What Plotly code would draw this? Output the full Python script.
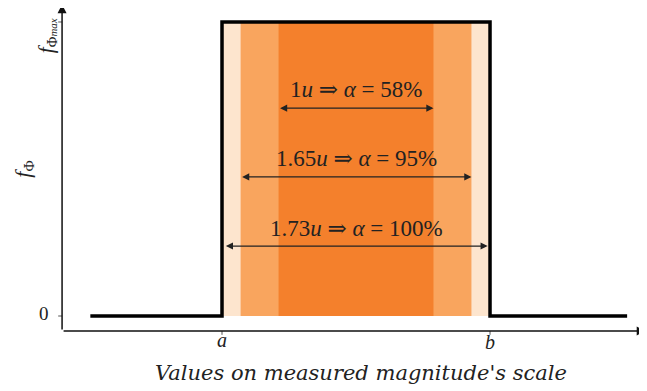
import plotly.graph_objects as go

# ---------------- data ----------------
a_val, b_val = -1.73, 1.73              # limits of the uniform pdf (in units of u)
pdf_x = [-3.43, -1.73, -1.73, 1.73, 1.73, 3.50]
pdf_y = [0, 0, 1, 1, 0, 0]

band_half = [1.73, 1.49, 1.0]           # light, medium, dark bands
band_colors = ["#FDE5CE", "#F9A55E", "#F4802C"]

arrow_half = [1.0, 1.49, 1.70]
arrow_y = [0.707, 0.473, 0.238]
label_y = [0.769, 0.537, 0.299]
labels = ["1<i>u</i>\u00a0⇒\u00a0<i>α</i>\u00a0=\u00a058%",
          "1.65<i>u</i>\u00a0⇒\u00a0<i>α</i>\u00a0=\u00a095%",
          "1.73<i>u</i>\u00a0⇒\u00a0<i>α</i>\u00a0=\u00a0100%"]

x_ticks = [a_val, b_val]
x_tick_labels = ["<i>a</i>", "<i>b</i>"]
y_ticks = [0, 1]
y_tick_labels = ["0", "<i>f</i><sub>Φ<span style='font-size:11px'><i>max</i></span></sub>"]

x_title = "<i>Values on measured magnitude's scale</i>"
y_title = "<i>f</i><sub>Φ</sub>"

# axis geometry (data coords)
x_axis_y = -0.051
y_axis_x = -3.795
x_axis_end = 3.74
y_axis_end = 1.06

SERIF = "Liberation Serif, DejaVu Serif, serif"

fig = go.Figure()

# bands
for h, c in zip(band_half, band_colors):
    fig.add_trace(go.Scatter(
        x=[-h, h, h, -h, -h], y=[0, 0, 1, 1, 0],
        fill="toself", fillcolor=c, line=dict(width=0),
        mode="lines", hoverinfo="skip", showlegend=False))

# pdf outline
fig.add_trace(go.Scatter(x=pdf_x, y=pdf_y, mode="lines",
                         line=dict(color="black", width=3.5),
                         showlegend=False, hoverinfo="skip"))

ann = []
# double-headed span arrows
for h, y in zip(arrow_half, arrow_y):
    ann.append(dict(x=h, y=y, ax=-h, ay=y, xref="x", yref="y", axref="x", ayref="y",
                    showarrow=True, arrowhead=2, startarrowhead=2, arrowside="end+start",
                    arrowsize=1.1, startarrowsize=1.1, arrowwidth=1.3, arrowcolor="#222",
                    text=""))
for t, y in zip(labels, label_y):
    ann.append(dict(x=0.01, y=y, xref="x", yref="y", text=t, showarrow=False,
                    font=dict(family=SERIF, size=23, color="#222")))

# axes with arrowheads
ann.append(dict(x=x_axis_end, y=x_axis_y, ax=y_axis_x, ay=x_axis_y, xref="x", yref="y",
                axref="x", ayref="y", showarrow=True, arrowhead=2, arrowsize=1.2,
                arrowwidth=1.5, arrowcolor="#111", text=""))
ann.append(dict(x=y_axis_x, y=y_axis_end, ax=y_axis_x, ay=x_axis_y, xref="x", yref="y",
                axref="x", ayref="y", showarrow=True, arrowhead=2, arrowsize=1.2,
                arrowwidth=1.5, arrowcolor="#111", text=""))

# tick marks
shapes = []
for xt in x_ticks:
    shapes.append(dict(type="line", xref="x", yref="y", x0=xt, x1=xt,
                       y0=x_axis_y, y1=x_axis_y - 0.013, line=dict(color="#555", width=1)))
for yt in y_ticks:
    shapes.append(dict(type="line", xref="x", yref="y", x0=y_axis_x - 0.05, x1=y_axis_x,
                       y0=yt, y1=yt, line=dict(color="#555", width=1)))

# tick labels
ann.append(dict(x=x_ticks[0], y=-0.083, xref="x", yref="y", text=x_tick_labels[0],
                showarrow=False, font=dict(family=SERIF, size=20, color="#222")))
ann.append(dict(x=x_ticks[1], y=-0.09, xref="x", yref="y", text=x_tick_labels[1],
                showarrow=False, font=dict(family=SERIF, size=20, color="#222")))
ann.append(dict(x=-4.03, y=y_ticks[0] + 0.007, xref="x", yref="y", text=y_tick_labels[0],
                showarrow=False, font=dict(family=SERIF, size=19, color="#222")))
ann.append(dict(x=-3.99, y=0.955, xref="x", yref="y", text=y_tick_labels[1], textangle=-90,
                showarrow=False, font=dict(family=SERIF, size=21, color="#222")))

# axis titles
ann.append(dict(x=0.06, y=-0.194, xref="x", yref="y", text=x_title, showarrow=False,
                font=dict(family="DejaVu Serif, serif", size=21, color="#222")))
ann.append(dict(x=-4.29, y=0.50, xref="x", yref="y", text=y_title, textangle=-90,
                showarrow=False, font=dict(family=SERIF, size=22, color="#222")))

fig.update_layout(
    width=647, height=391,
    margin=dict(l=0, r=0, t=0, b=0),
    paper_bgcolor="white", plot_bgcolor="white",
    xaxis=dict(range=[-4.493, 3.860], visible=False, fixedrange=True),
    yaxis=dict(range=[-0.2823, 1.0476], visible=False, fixedrange=True),
    annotations=ann, shapes=shapes, showlegend=False,
)

fig.write_html("out.html")
